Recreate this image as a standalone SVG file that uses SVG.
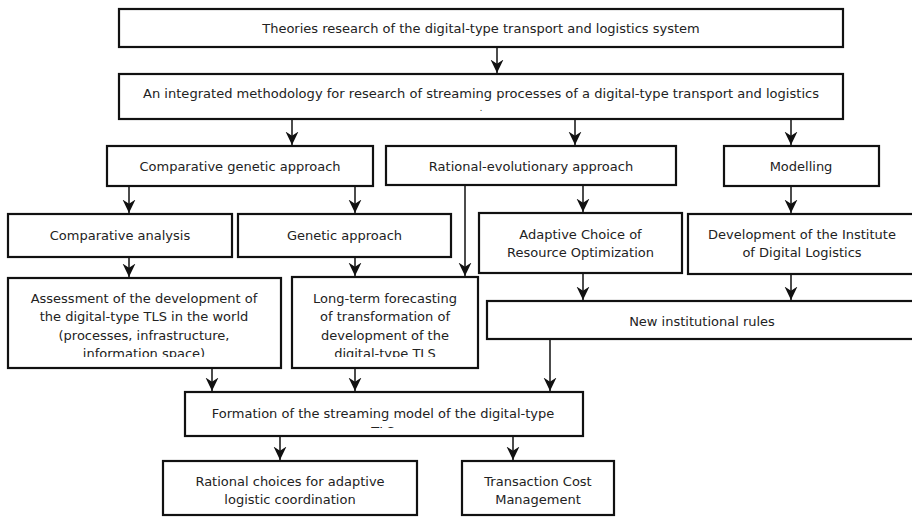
<svg xmlns="http://www.w3.org/2000/svg" width="912" height="517" viewBox="0 0 912 517">
<style>
.box{fill:#fff;stroke:#111;stroke-width:2.2}
.t{font-family:"DejaVu Sans",Verdana,sans-serif;font-size:13px;fill:#222;text-anchor:middle}
.c{fill:none;stroke:#111;stroke-width:1.5}
</style>
<defs>
<marker id="ah" markerUnits="userSpaceOnUse" markerWidth="14" markerHeight="14" viewBox="0 0 13 12" refX="12.5" refY="6" orient="auto">
<path d="M12.5,6 L0,0 L4,6 L0,12 Z" fill="#111"/>
</marker>
<clipPath id="clipA"><rect x="8" y="278" width="273" height="79"/></clipPath>
<clipPath id="clipL"><rect x="292" y="277" width="186" height="80"/></clipPath>
<clipPath id="clipF"><rect x="185" y="392" width="398" height="36"/></clipPath>
</defs>
<rect width="912" height="517" fill="#fff"/>
<g id="connectors">
<line class="c" x1="497" y1="47" x2="497" y2="73" marker-end="url(#ah)"/>
<line class="c" x1="292" y1="119" x2="292" y2="145" marker-end="url(#ah)"/>
<line class="c" x1="575" y1="119" x2="575" y2="145" marker-end="url(#ah)"/>
<line class="c" x1="791" y1="119" x2="791" y2="145" marker-end="url(#ah)"/>
<line class="c" x1="129" y1="186" x2="129" y2="213" marker-end="url(#ah)"/>
<line class="c" x1="355" y1="186" x2="355" y2="213" marker-end="url(#ah)"/>
<line class="c" x1="583" y1="185" x2="583" y2="212" marker-end="url(#ah)"/>
<line class="c" x1="791" y1="186" x2="791" y2="213" marker-end="url(#ah)"/>
<line class="c" x1="465" y1="185" x2="465" y2="276" marker-end="url(#ah)"/>
<line class="c" x1="129" y1="257" x2="129" y2="277" marker-end="url(#ah)"/>
<line class="c" x1="355" y1="257" x2="355" y2="276" marker-end="url(#ah)"/>
<line class="c" x1="583" y1="273" x2="583" y2="300" marker-end="url(#ah)"/>
<line class="c" x1="791" y1="274" x2="791" y2="300" marker-end="url(#ah)"/>
<line class="c" x1="212" y1="368" x2="212" y2="391" marker-end="url(#ah)"/>
<line class="c" x1="355" y1="368" x2="355" y2="391" marker-end="url(#ah)"/>
<line class="c" x1="550" y1="339" x2="550" y2="391" marker-end="url(#ah)"/>
<line class="c" x1="280" y1="436" x2="280" y2="460" marker-end="url(#ah)"/>
<line class="c" x1="513" y1="436" x2="513" y2="460" marker-end="url(#ah)"/>
</g>
<g id="n1"><rect class="box" x="119" y="9" width="724" height="38"/><text class="t" x="481" y="33">Theories research of the digital-type transport and logistics system</text></g>
<g id="n2"><rect class="box" x="119" y="74" width="724" height="45"/><text class="t" x="481" y="98" textLength="676" lengthAdjust="spacingAndGlyphs">An integrated methodology for research of streaming processes of a digital-type transport and logistics</text><text class="t" x="481" y="111" style="font-size:8px">.</text></g>
<g id="n3"><rect class="box" x="107" y="146" width="266" height="40"/><text class="t" x="240" y="170.5">Comparative genetic approach</text></g>
<g id="n4"><rect class="box" x="386" y="146" width="290" height="39"/><text class="t" x="531" y="170.5">Rational-evolutionary approach</text></g>
<g id="n5"><rect class="box" x="724" y="146" width="155" height="40"/><text class="t" x="801" y="170.5">Modelling</text></g>
<g id="n6"><rect class="box" x="8" y="214" width="224" height="43"/><text class="t" x="120" y="239.5">Comparative analysis</text></g>
<g id="n7"><rect class="box" x="238" y="214" width="213" height="43"/><text class="t" x="344.5" y="239.5">Genetic approach</text></g>
<g id="n8"><rect class="box" x="479" y="213" width="203" height="60"/><text class="t" x="580.5" y="238.5">Adaptive Choice of</text><text class="t" x="580.5" y="256.5">Resource Optimization</text></g>
<g id="n9"><rect class="box" x="688" y="214" width="230" height="60"/><text class="t" x="802" y="238.5">Development of the Institute</text><text class="t" x="802" y="256.5">of Digital Logistics</text></g>
<g id="n10"><rect class="box" x="8" y="278" width="273" height="90"/><g clip-path="url(#clipA)"><text class="t" x="144" y="302.5">Assessment of the development of</text><text class="t" x="144" y="321">the digital-type TLS in the world</text><text class="t" x="144" y="339.5">(processes, infrastructure,</text><text class="t" x="144" y="358">information space)</text></g></g>
<g id="n11"><rect class="box" x="292" y="277" width="186" height="91"/><g clip-path="url(#clipL)"><text class="t" x="385" y="302.5">Long-term forecasting</text><text class="t" x="385" y="321">of transformation of</text><text class="t" x="385" y="339.5">development of the</text><text class="t" x="385" y="358">digital-type TLS</text></g></g>
<g id="n12"><rect class="box" x="487" y="301" width="430" height="38"/><text class="t" x="702" y="325.5">New institutional rules</text></g>
<g id="n13"><rect class="box" x="185" y="392" width="398" height="44"/><g clip-path="url(#clipF)"><text class="t" x="383" y="417.5">Formation of the streaming model of the digital-type</text><text class="t" x="383" y="436">TLS</text></g></g>
<g id="n14"><rect class="box" x="163" y="461" width="254" height="54"/><text class="t" x="290" y="486">Rational choices for adaptive</text><text class="t" x="290" y="504">logistic coordination</text></g>
<g id="n15"><rect class="box" x="462" y="461" width="152" height="54"/><text class="t" x="538" y="486">Transaction Cost</text><text class="t" x="538" y="504">Management</text></g>
</svg>
